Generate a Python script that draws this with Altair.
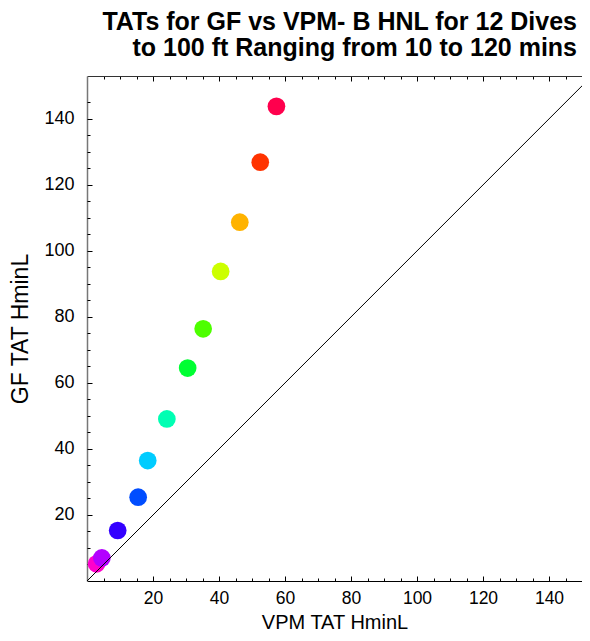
import altair as alt
import pandas as pd

# ---- data ----
dive_minutes = [10, 20, 30, 40, 50, 60, 70, 80, 90, 100, 110, 120]
vpm_tat = [2.9, 4.5, 9.3, 15.5, 18.4, 24.2, 30.5, 35.2, 40.5, 46.3, 52.5, 57.4]
gf_tat = [5.2, 7.0, 15.3, 25.4, 36.5, 49.1, 64.5, 76.4, 93.8, 108.7, 126.9, 143.8]
dot_colors = ["#FF00CC", "#B300FF", "#3300FF", "#004DFF", "#00CCFF", "#00FFB3",
              "#00FF33", "#4DFF00", "#CCFF00", "#FFB300", "#FF3300", "#FF004D"]
diag_vals = [0, 160]
major_ticks = [20, 40, 60, 80, 100, 120, 140]
minor_ticks = [5, 10, 15, 25, 30, 35, 45, 50, 55, 65, 70, 75, 85, 90, 95,
               105, 110, 115, 125, 130, 135, 145]
title_lines = ["TATs for GF vs VPM- B HNL for 12 Dives",
               "to 100 ft Ranging from 10 to 120 mins"]

df = pd.DataFrame({"vpm": vpm_tat, "gf": gf_tat, "dive": dive_minutes})
diag = pd.DataFrame({"x": diag_vals, "y": diag_vals})

FONT = "Liberation Sans"
xscale = alt.Scale(domain=[0, 150], nice=False, zero=False)
yscale = alt.Scale(domain=[0, 153.0], nice=False, zero=False)


def tick_axis(orient, values, size):
    return alt.Axis(orient=orient, values=values, tickSize=size, offset=-size,
                    domain=False, labels=False, title=None, grid=False,
                    tickColor="black", tickWidth=1)


points = alt.Chart(df).mark_circle(size=314, opacity=1).encode(
    x=alt.X("vpm:Q", scale=xscale, axis=alt.Axis(
        orient="bottom", values=major_ticks, title="VPM TAT  HminL",
        domain=True, domainColor="black", domainWidth=1,
        ticks=False, tickSize=0, labelPadding=8, grid=False,
        labelFont=FONT, labelFontSize=17.5, labelColor="black",
        titleFont=FONT, titleFontSize=20, titleFontWeight="normal",
        titleColor="black", titleY=47, titleBaseline="alphabetic")),
    y=alt.Y("gf:Q", scale=yscale, axis=alt.Axis(
        orient="left", values=major_ticks, title="GF TAT HminL",
        domain=True, domainColor="#777777", domainWidth=1.5,
        ticks=False, tickSize=0, labelPadding=13, grid=False,
        labelFont=FONT, labelFontSize=18, labelColor="black",
        titleFont=FONT, titleFontSize=23, titleFontWeight="normal",
        titleColor="black", titleX=-60, titleBaseline="alphabetic")),
    color=alt.Color("dive:O", scale=alt.Scale(domain=dive_minutes, range=dot_colors),
                    legend=None),
)

line = alt.Chart(diag).mark_line(color="black", strokeWidth=1, clip=True).encode(
    x=alt.X("x:Q", scale=xscale, axis=tick_axis("bottom", major_ticks, 5)),
    y=alt.Y("y:Q", scale=yscale, axis=tick_axis("left", major_ticks, 5)),
)

minor_bl = alt.Chart(diag).mark_line(strokeOpacity=0, clip=True).encode(
    x=alt.X("x:Q", scale=xscale, axis=tick_axis("bottom", minor_ticks, 3)),
    y=alt.Y("y:Q", scale=yscale, axis=tick_axis("left", minor_ticks, 3)),
)

major_top = alt.Chart(diag).mark_line(strokeOpacity=0, clip=True).encode(
    x=alt.X("x:Q", scale=xscale, axis=tick_axis("top", major_ticks, 5)),
    y=alt.Y("y:Q", scale=yscale, axis=None),
)

minor_top = alt.Chart(diag).mark_line(strokeOpacity=0, clip=True).encode(
    x=alt.X("x:Q", scale=xscale, axis=tick_axis("top", minor_ticks, 3)),
    y=alt.Y("y:Q", scale=yscale, axis=None),
)

top_frame = alt.Chart(diag).mark_line(strokeOpacity=0, clip=True).encode(
    x=alt.X("x:Q", scale=xscale, axis=alt.Axis(
        orient="top", domain=True, domainColor="#333333", ticks=False,
        labels=False, title=None, grid=False)),
    y=alt.Y("y:Q", scale=yscale, axis=None),
)

chart = alt.layer(points, line, minor_bl, major_top, minor_top, top_frame).resolve_axis(
    x="independent", y="independent"
).properties(
    width=495,
    height=505,
    autosize=alt.AutoSizeParams(type="none"),
    padding={"left": 79, "top": 68, "right": 0, "bottom": 52},
    title=alt.TitleParams(
        text=title_lines, anchor="end", frame="group", font=FONT, fontSize=25,
        fontWeight="bold", color="black", lineHeight=26, dx=-5, dy=30, offset=20,
        baseline="bottom"),
    background="white",
).configure_view(stroke=None)

chart.save("out.html", embed_options={"renderer": "svg", "actions": False})
